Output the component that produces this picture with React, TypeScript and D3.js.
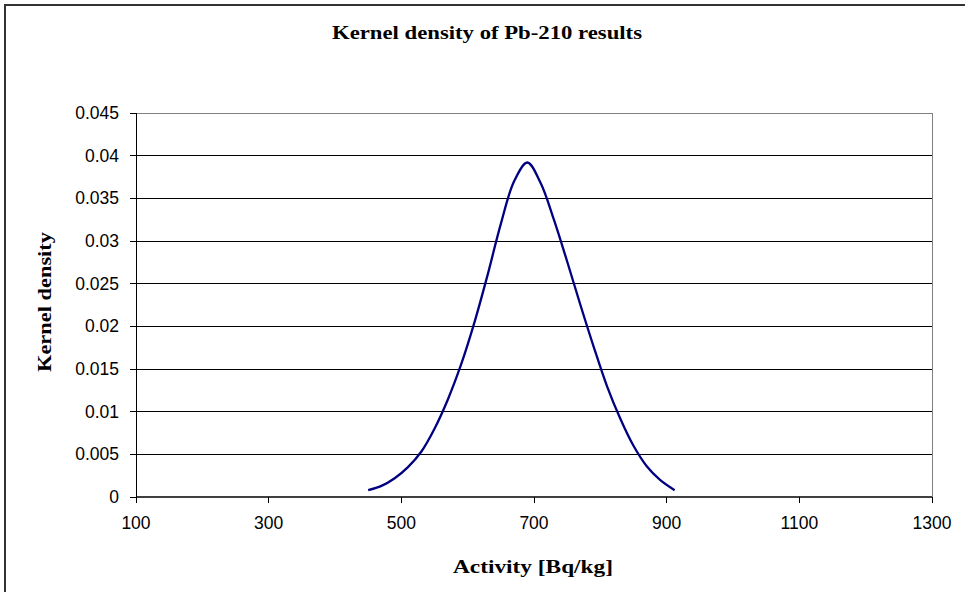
import React from "react";
import * as d3 from "d3";

const activity = [450, 470, 490, 510, 530, 550, 570, 590, 610, 630, 650, 670, 690, 710, 730, 750, 770, 790, 810, 830, 850, 870, 890, 912];
const density = [0.0008, 0.0013, 0.0022, 0.0035, 0.0053, 0.008, 0.0114, 0.0155, 0.0204, 0.026, 0.032, 0.037, 0.0392, 0.0368, 0.0325, 0.0276, 0.0225, 0.0176, 0.013, 0.0092, 0.006, 0.0036, 0.002, 0.0008];
const xTicks = [100, 300, 500, 700, 900, 1100, 1300];
const yTicks = [0, 0.005, 0.01, 0.015, 0.02, 0.025, 0.03, 0.035, 0.04, 0.045];
const title = "Kernel density of Pb-210 results";
const xTitle = "Activity [Bq/kg]";
const yTitle = "Kernel density";

export default function App() {
  const W = 965, H = 592;
  const L = 136, R = 932, T = 113, B = 497;
  const x = d3.scaleLinear().domain([100, 1300]).range([L, R]);
  const y = d3.scaleLinear().domain([0, 0.045]).range([B, T]);
  const pts = activity.map((a, i) => [a, density[i]] as [number, number]);
  const line = d3.line<[number, number]>().x(d => x(d[0])).y(d => y(d[1])).curve(d3.curveCatmullRom.alpha(0.5));
  const sans = "'Liberation Sans', Arial, sans-serif";
  const serif = "'Liberation Serif', 'Times New Roman', serif";
  return (
    <svg width={W} height={H} style={{ position: "absolute", left: 0, top: 0, background: "#fff" }}>
      <rect x={5} y={5} width={W + 10} height={H + 10} fill="#fff" stroke="#333" strokeWidth={2} />
      {yTicks.map(t => (
        <line key={"g" + t} x1={L} x2={R} y1={y(t)} y2={y(t)} stroke={t === 0.045 ? "#808080" : "#000"} strokeWidth={1} shapeRendering="crispEdges" />
      ))}
      <line x1={R} x2={R} y1={T} y2={B} stroke="#808080" strokeWidth={1} shapeRendering="crispEdges" />
      <line x1={L} x2={R} y1={B} y2={B} stroke="#404040" strokeWidth={1.5} shapeRendering="crispEdges" />
      <line x1={L} x2={L} y1={T} y2={B + 5} stroke="#000" strokeWidth={1} shapeRendering="crispEdges" />
      {yTicks.map(t => (
        <g key={"y" + t}>
          <line x1={L - 6} x2={L} y1={y(t)} y2={y(t)} stroke="#000" shapeRendering="crispEdges" />
          <text x={119} y={y(t) + 6} textAnchor="end" fontFamily={sans} fontSize={17.5} fill="#000">{String(t)}</text>
        </g>
      ))}
      {xTicks.map(t => (
        <g key={"x" + t}>
          <line x1={x(t)} x2={x(t)} y1={B} y2={B + 6} stroke="#000" shapeRendering="crispEdges" />
          <text x={x(t)} y={529} textAnchor="middle" fontFamily={sans} fontSize={17.5} fill="#000">{String(t)}</text>
        </g>
      ))}
      <path d={line(pts) || ""} fill="none" stroke="#000080" strokeWidth={2.3} />
      <text x={487} y={39} textAnchor="middle" fontFamily={serif} fontWeight="bold" fontSize={18.5} textLength={310} lengthAdjust="spacingAndGlyphs" fill="#000">{title}</text>
      <text x={533} y={573} textAnchor="middle" fontFamily={serif} fontWeight="bold" fontSize={18.5} textLength={160} lengthAdjust="spacingAndGlyphs" fill="#000">{xTitle}</text>
      <text transform={`translate(51,302) rotate(-90)`} textAnchor="middle" fontFamily={serif} fontWeight="bold" fontSize={18.5} textLength={140} lengthAdjust="spacingAndGlyphs" fill="#000">{yTitle}</text>
    </svg>
  );
}
